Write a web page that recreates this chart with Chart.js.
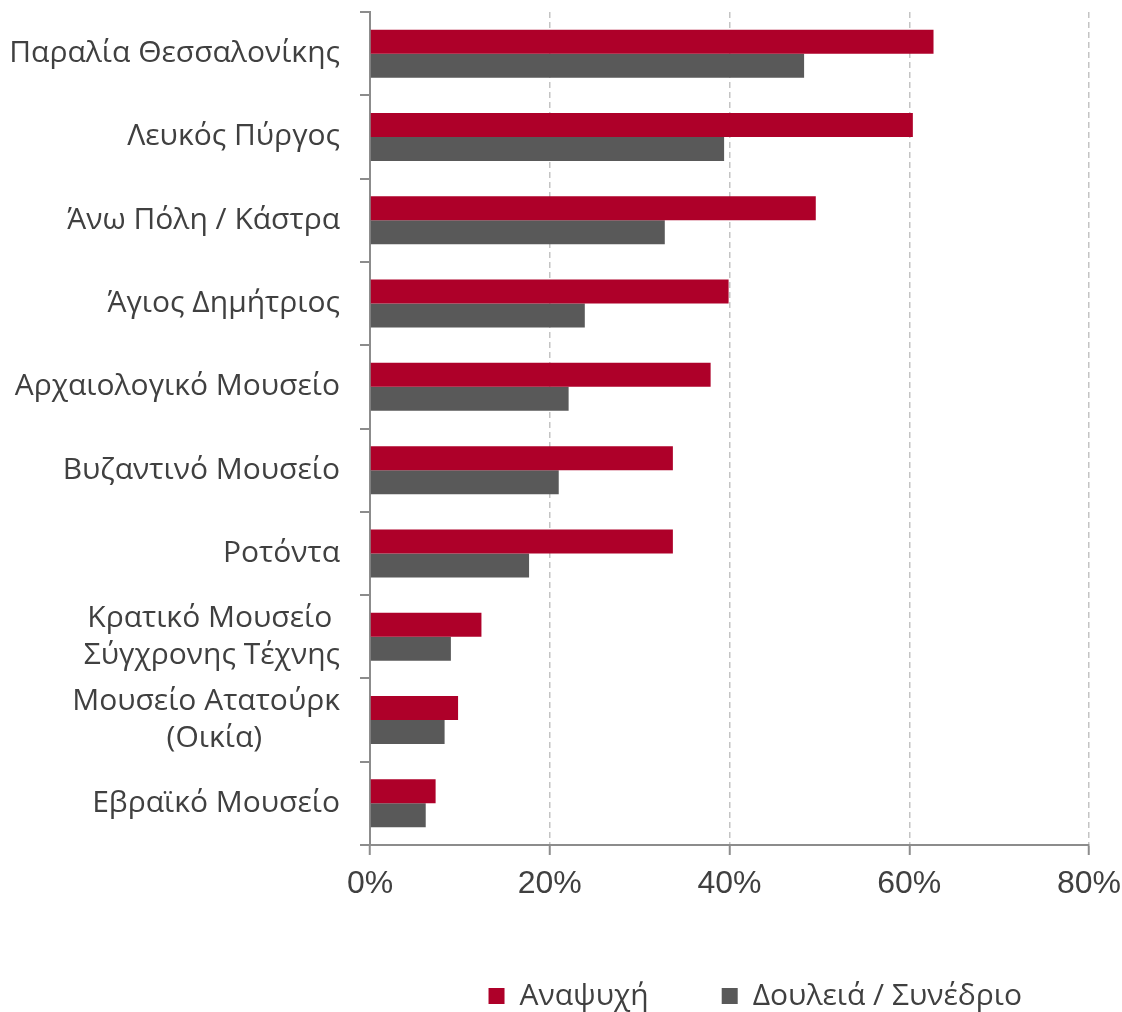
<!DOCTYPE html>
<html>
<head>
<meta charset="utf-8">
<script src="https://cdn.jsdelivr.net/npm/chart.js@4"></script>
<style>
html,body{margin:0;padding:0;background:#fff;}
#wrap{width:1122px;height:1012px;position:relative;}
</style>
</head>
<body>
<div id="wrap"><canvas id="c"></canvas></div>
<script>
const categories = [
  "Παραλία Θεσσαλονίκης",
  "Λευκός Πύργος",
  "Άνω Πόλη / Κάστρα",
  "Άγιος Δημήτριος",
  "Αρχαιολογικό Μουσείο",
  "Βυζαντινό Μουσείο",
  "Ροτόντα",
  ["Κρατικό Μουσείο ", "Σύγχρονης Τέχνης"],
  ["Μουσείο Ατατούρκ", "(Οικία)          "],
  "Εβραϊκό Μουσείο"
];
const seriesNames = ["Αναψυχή", "Δουλειά / Συνέδριο"];
const leisure = [62.7, 60.4, 49.6, 39.9, 37.9, 33.7, 33.7, 12.4, 9.8, 7.3];
const business = [48.3, 39.4, 32.8, 23.9, 22.1, 21.0, 17.7, 9.0, 8.3, 6.2];
const xTicks = [0, 20, 40, 60, 80];

const textColor = '#404040';
const axisColor = '#8c8c8c';

new Chart(document.getElementById('c'), {
  type: 'bar',
  data: {
    labels: categories,
    datasets: [
      { label: seriesNames[0], data: leisure, backgroundColor: '#ae0029', borderWidth: 0 },
      { label: seriesNames[1], data: business, backgroundColor: '#595959', borderWidth: 0 }
    ]
  },
  options: {
    indexAxis: 'y',
    responsive: true,
    maintainAspectRatio: false,
    animation: false,
    devicePixelRatio: 1,
    datasets: { bar: { categoryPercentage: 0.576, barPercentage: 1.0 } },
    layout: { padding: { top: 12, right: 27, bottom: 0, left: 0 } },
    plugins: {
      tooltip: { enabled: false },
      legend: {
        position: 'bottom',
        align: 'end',
        maxHeight: 104,
        labels: {
          color: textColor,
          font: { family: "'Open Sans', 'Noto Sans', sans-serif", size: 30 },
          boxWidth: 16,
          boxHeight: 16,
          padding: 73
        }
      }
    },
    scales: {
      x: {
        min: 0, max: 80,
        afterBuildTicks: (s) => { s.ticks = xTicks.map(v => ({ value: v })); },
        afterFit: (s) => { s.height = 63; s.paddingRight = 33; },
        ticks: {
          color: textColor,
          padding: 10,
          font: { family: "'Liberation Sans', Arial, sans-serif", size: 32 },
          callback: (v) => v + '%'
        },
        grid: {
          color: (ctx) => ctx.index === 0 ? 'rgba(0,0,0,0)' : '#c4c4c4',
          lineWidth: 1.5,
          drawTicks: true,
          tickLength: 10,
          tickColor: axisColor,
          tickWidth: 2,
          tickBorderDash: []
        },
        border: { display: true, color: axisColor, width: 2, dash: [6, 4] }
      },
      y: {
        afterFit: (s) => { s.width = 370; s.paddingTop = 0; s.paddingBottom = 0; },
        ticks: {
          color: textColor,
          padding: 20,
          font: { family: "'Open Sans', 'Noto Sans', sans-serif", size: 30, lineHeight: 1.23 }
        },
        grid: {
          offset: true,
          drawOnChartArea: false,
          drawTicks: true,
          tickLength: 10,
          color: axisColor,
          tickColor: axisColor,
          tickWidth: 2,
          lineWidth: 2
        },
        border: { display: true, color: axisColor, width: 2 }
      }
    }
  }
});
</script>
</body>
</html>
